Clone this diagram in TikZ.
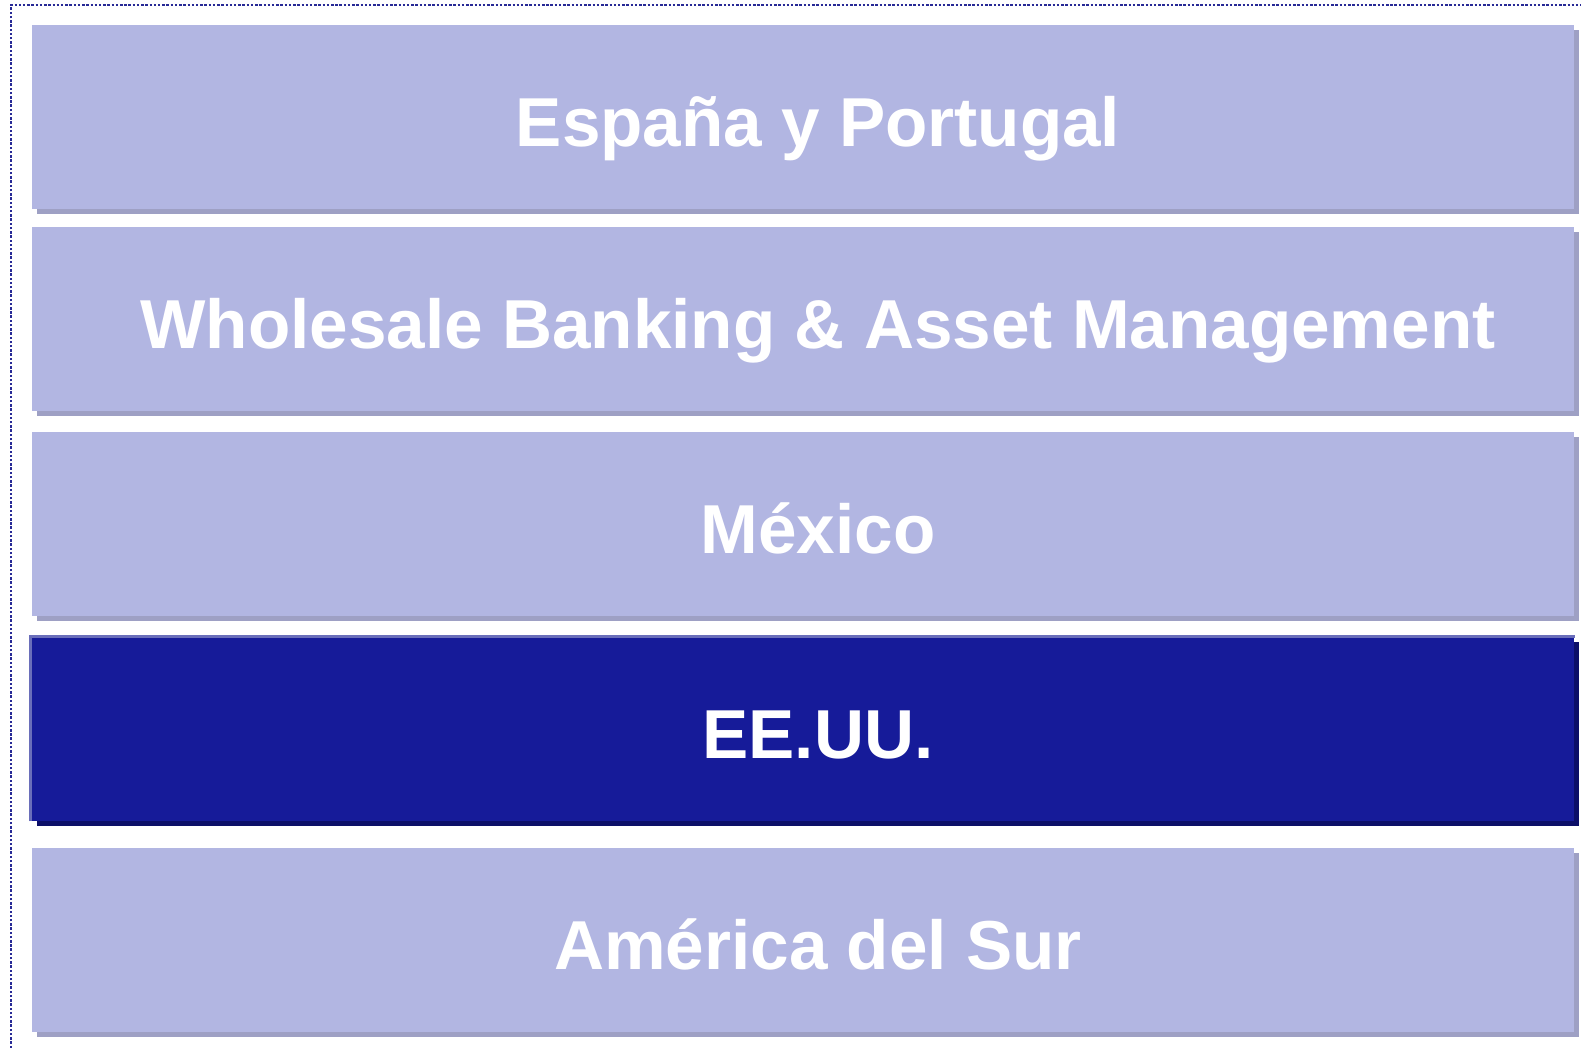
\documentclass[tikz,border=0pt]{standalone}
\usepackage{fontspec}
\setmainfont{Liberation Sans}
\usepackage{tikz}
\usetikzlibrary{positioning,shadows}
\definecolor{segLight}{RGB}{178,182,226}
\definecolor{segLightShadow}{RGB}{158,160,196}
\definecolor{segDark}{RGB}{22,27,153}
\definecolor{segDarkEdge}{RGB}{106,110,186}
\definecolor{segDarkShadow}{RGB}{12,15,104}
\definecolor{frameBlue}{RGB}{40,42,150}

\begin{document}
\begin{tikzpicture}[x=0.01cm, y=-0.01cm,
    segbox/.style={rectangle, minimum width=15.42cm, minimum height=1.83cm, inner sep=0pt},
    lightbox/.style={segbox, fill=segLight,
        drop shadow={shadow xshift=0.05cm, shadow yshift=-0.05cm, fill=segLightShadow, opacity=1}},
    darkbox/.style={segbox, fill=segDark,
        drop shadow={shadow xshift=0.05cm, shadow yshift=-0.05cm, fill=segDarkShadow, opacity=1}},
    seglabel/.style={text=white, anchor=base, font=\bfseries\fontsize{19.7}{23}\selectfont}]
    \useasboundingbox (0,0) rectangle (1581,1048);

    % Frame
    \draw[frameBlue, line width=0.7pt, dash pattern=on 0.7pt off 0.5pt] (11,1048) -- (11,5) -- (1581,5);

    % Segments
    \node[lightbox] (spain) at (803,117) {};
    \node[lightbox] (wholesale) at (803,319) {};
    \node[lightbox] (mexico) at (803,524) {};
    \node[darkbox] (usa) at (803,729) {};
    \node[lightbox] (south) at (803,940) {};
    \draw[segDarkEdge, line width=0.8pt] (usa.south west) -- (usa.north west) -- (usa.north east);

    % Labels
    \foreach \seg/\txt in {spain/España y Portugal, wholesale/Wholesale Banking \& Asset Management,
        mexico/México, usa/EE.UU., south/América del Sur} {
        \node[seglabel] (\seg-label) at ([xshift=0.15cm, yshift=-0.29cm]\seg.center) {\txt};
    }
\end{tikzpicture}
\end{document}
